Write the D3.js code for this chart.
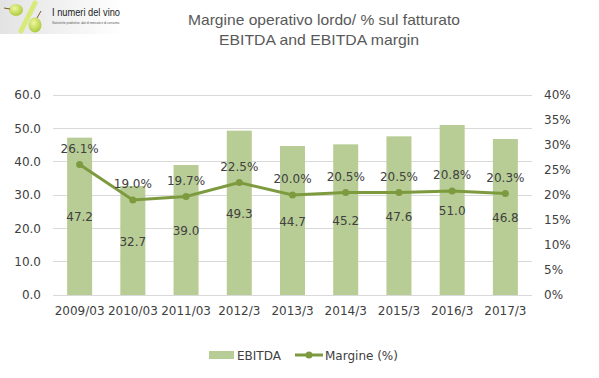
<!DOCTYPE html>
<html><head><meta charset="utf-8">
<script src="https://cdn.jsdelivr.net/npm/d3@7"></script>
<style>body{margin:0;background:#fff}svg{display:block}text{font-family:"DejaVu Sans",Verdana,sans-serif}</style>
</head><body>
<svg id="c" width="599" height="378"></svg>
<script>
const categories = ["2009/03","2010/03","2011/03","2012/3","2013/3","2014/3","2015/3","2016/3","2017/3"];
const ebitda = [47.2,32.7,39.0,49.3,44.7,45.2,47.6,51.0,46.8];
const margin = [26.1,19.0,19.7,22.5,20.0,20.5,20.5,20.8,20.3];
const leftTicks = [0,10,20,30,40,50,60];
const rightTicks = [0,5,10,15,20,25,30,35,40];

const svg = d3.select("#c");
const barColor = "#b8cd95", lineColor = "#7d9a3f", textColor = "#404040";
const L = 53, R = 532, T = 95, B = 295;
const FONT = "DejaVu Sans, Verdana, sans-serif";

// logo
const defs = svg.append("defs");
const g1 = defs.append("linearGradient").attr("id","lg").attr("x1",0).attr("x2",1);
g1.append("stop").attr("offset",0).attr("stop-color","#e3e3e3");
g1.append("stop").attr("offset",1).attr("stop-color","#ffffff");
const rg = defs.append("radialGradient").attr("id","gr").attr("cx",0.4).attr("cy",0.35).attr("r",0.7);
rg.append("stop").attr("offset",0).attr("stop-color","#eef79a");
rg.append("stop").attr("offset",1).attr("stop-color","#a8c83a");
const logo = svg.append("g");
logo.append("rect").attr("x",0).attr("y",0).attr("width",122).attr("height",34).attr("fill","url(#lg)");
logo.append("line").attr("x1",35).attr("y1",3).attr("x2",21).attr("y2",31).attr("stroke","#d9ea7a").attr("stroke-width",5).attr("stroke-linecap","round");
logo.append("ellipse").attr("cx",16).attr("cy",10).attr("rx",7).attr("ry",6).attr("fill","url(#gr)");
logo.append("path").attr("d","M4,8 L10,9").attr("stroke","#7a5a2a").attr("stroke-width",1);
logo.append("ellipse").attr("cx",35).attr("cy",25).attr("rx",6.5).attr("ry",7.5).attr("fill","url(#gr)");
logo.append("path").attr("d","M37,18 L41,11").attr("stroke","#7a5a2a").attr("stroke-width",1);
logo.append("text").attr("x",52).attr("y",16).attr("font-size",10).attr("fill","#222")
  .attr("textLength",68).attr("lengthAdjust","spacingAndGlyphs").style("font-family","Liberation Sans, Arial, sans-serif").text("I numeri del vino");
logo.append("text").attr("x",52).attr("y",24).attr("font-size",3).attr("fill","#555")
  .attr("textLength",68).style("font-family","Liberation Sans, Arial, sans-serif").text("Statistiche produttive, dati di mercato e di consumo.");

// title
svg.append("text").attr("x",324).attr("y",25).attr("text-anchor","middle").attr("font-size",15).attr("fill","#595959")
  .style("font-family","Liberation Sans, Arial, sans-serif")
  .attr("textLength",272).attr("lengthAdjust","spacingAndGlyphs").text("Margine operativo lordo/ % sul fatturato");
svg.append("text").attr("x",319).attr("y",45).attr("text-anchor","middle").attr("font-size",15).attr("fill","#595959")
  .style("font-family","Liberation Sans, Arial, sans-serif")
  .attr("textLength",200).attr("lengthAdjust","spacingAndGlyphs").text("EBITDA and EBITDA margin");

const x = d3.scaleBand().domain(categories).range([L,R]).paddingInner(0.53).paddingOuter(0.265);
const yL = d3.scaleLinear().domain([0,60]).range([B,T]);
const yR = d3.scaleLinear().domain([0,40]).range([B,T]);

// gridlines
svg.append("g").selectAll("line").data(leftTicks).join("line")
  .attr("x1",L).attr("x2",R).attr("y1",d=>yL(d)).attr("y2",d=>yL(d))
  .attr("stroke","#d9d9d9").attr("stroke-width",1).attr("shape-rendering","crispEdges");

// axes
const axL = svg.append("g").attr("transform",`translate(${L},0)`)
  .call(d3.axisLeft(yL).tickValues(leftTicks).tickFormat(d3.format(".1f")).tickSize(0).tickPadding(12));
const axR = svg.append("g").attr("transform",`translate(${R},0)`)
  .call(d3.axisRight(yR).tickValues(rightTicks).tickFormat(d=>d+"%").tickSize(0).tickPadding(12));
const axB = svg.append("g").attr("transform",`translate(0,${B})`)
  .call(d3.axisBottom(x).tickSize(0).tickPadding(11));
[axL,axR,axB].forEach(a=>{a.select(".domain").remove();a.selectAll("text").attr("font-size",12).attr("fill",textColor).style("font-family",FONT);});
svg.append("line").attr("x1",L).attr("x2",R).attr("y1",B).attr("y2",B).attr("stroke","#d9d9d9").attr("shape-rendering","crispEdges");

// bars
svg.append("g").selectAll("rect").data(ebitda).join("rect")
  .attr("x",(d,i)=>x(categories[i])).attr("width",x.bandwidth())
  .attr("y",d=>yL(d)).attr("height",d=>B-yL(d)).attr("fill",barColor);

// bar labels
svg.append("g").selectAll("text").data(ebitda).join("text")
  .attr("x",(d,i)=>x(categories[i])+x.bandwidth()/2).attr("y",d=>(yL(d)+B)/2+5)
  .attr("text-anchor","middle").attr("font-size",12).attr("fill",textColor).text(d=>d.toFixed(1));

// line
const cx = i=>x(categories[i])+x.bandwidth()/2;
svg.append("path").datum(margin).attr("fill","none").attr("stroke",lineColor).attr("stroke-width",3)
  .attr("d",d3.line().x((d,i)=>cx(i)).y(d=>yR(d)));
svg.append("g").selectAll("circle").data(margin).join("circle")
  .attr("cx",(d,i)=>cx(i)).attr("cy",d=>yR(d)).attr("r",3.5).attr("fill",lineColor);
svg.append("g").selectAll("text").data(margin).join("text")
  .attr("x",(d,i)=>cx(i)).attr("y",d=>yR(d)-12)
  .attr("text-anchor","middle").attr("font-size",12).attr("fill",textColor).text(d=>d.toFixed(1)+"%");

// legend
const lg = svg.append("g");
lg.append("rect").attr("x",209).attr("y",351).attr("width",25).attr("height",8).attr("fill",barColor);
lg.append("text").attr("x",237).attr("y",360).attr("font-size",12).attr("fill",textColor).text("EBITDA");
lg.append("line").attr("x1",295).attr("x2",323).attr("y1",355).attr("y2",355).attr("stroke",lineColor).attr("stroke-width",3);
lg.append("circle").attr("cx",309).attr("cy",355).attr("r",3.5).attr("fill",lineColor);
lg.append("text").attr("x",325).attr("y",360).attr("font-size",12).attr("fill",textColor).text("Margine (%)");
</script>
</body></html>
